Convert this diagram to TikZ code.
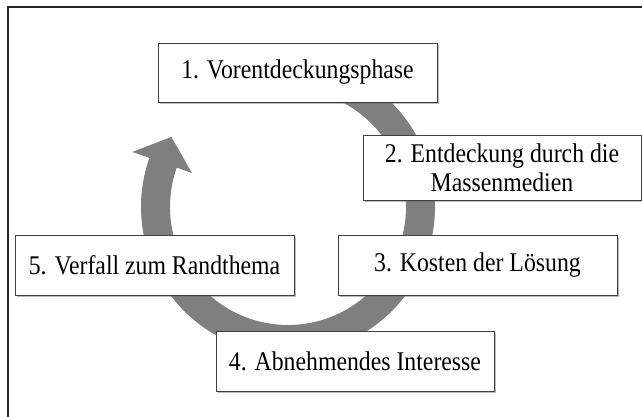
\documentclass[tikz,border=0pt]{standalone}
\usepackage{fontspec}
\setmainfont{Liberation Serif}[FakeStretch=0.88]
\usetikzlibrary{shadows}
\definecolor{ringgray}{HTML}{7F7F7F}
\tikzset{
  stagebox/.style={draw=black!75, line width=0.8pt, fill=white, inner sep=0pt,
    minimum width=279pt, minimum height=60pt, align=center,
    font=\fontsize{27}{29}\selectfont,
    drop shadow={shadow xshift=2pt, shadow yshift=-2pt, opacity=0.45, fill=black!60}},
  frameline/.style={draw=black!85, line width=1.5pt},
  ring/.style={fill=ringgray, draw=none}
}
\begin{document}
\begin{tikzpicture}[x=1pt,y=1pt]
\useasboundingbox (0,0) rectangle (642,417);
\clip (0,0) rectangle (642,417);
\fill[white] (0,0) rectangle (642,417);
\draw[frameline] (8,-20) rectangle (700,410);
% circular arrow
\coordinate (c) at (288,210);
\fill[ring] ([shift={(c)}]80:147pt) arc[start angle=80, end angle=-199.5, radius=147pt]
  -- ([shift={(c)}]160.5:165pt) -- ([shift={(c)}]149:136pt) -- ([shift={(c)}]160.5:102pt)
  -- ([shift={(c)}]160.5:118pt) arc[start angle=-199.5, end angle=80, radius=118pt] -- cycle;
% boxes
\node[stagebox, minimum height=59pt] (s1) at (297.5,344.5) {1. Vorentdeckungsphase};
\node[stagebox, minimum width=278pt, minimum height=65pt] (s2) at (502,249.5) {2. Entdeckung durch die\\Massenmedien};
\node[stagebox] (s3) at (477.5,152) {3. Kosten der Lösung};
\node[stagebox, minimum width=278pt] (s4) at (355,56) {4. Abnehmendes Interesse};
\node[stagebox] (s5) at (154.5,152) {5. Verfall zum Randthema};
\end{tikzpicture}
\end{document}
